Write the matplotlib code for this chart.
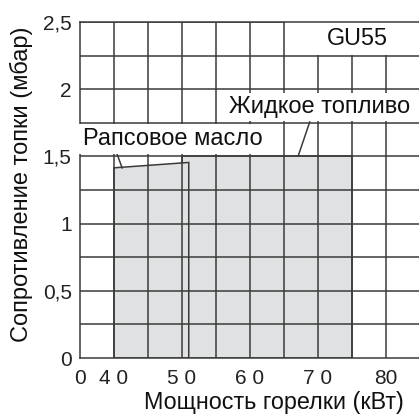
import matplotlib
matplotlib.use('Agg')
import matplotlib.pyplot as plt
from matplotlib.patches import Rectangle

plt.rcParams['font.family'] = ['Liberation Sans', 'DejaVu Sans']

# x axis is broken: 0, then 40..85 kW in 5 kW steps
x_ticks_kw = [0, 40, 50, 60, 70, 80]
x_tick_labels = ['0', '4 0', '5 0', '6 0', '7 0', '80']
y_ticks = [0, 0.5, 1, 1.5, 2, 2.5]
y_tick_labels = ['0', '0,5', '1', '1,5', '2', '2,5']

# Жидкое топливо (fuel oil) field
fuel_kw = [50, 50, 75, 75]
fuel_mbar = [0, 1.5, 1.5, 0]
# Рапсовое масло (rapeseed oil) field
rape_kw = [40, 40, 51, 51]
rape_mbar = [0, 1.415, 1.455, 0]


def pos(kw):
    # map kW to axis position (one grid cell = 5 kW, first cell is the break)
    return [0 if v == 0 else (v - 35) / 5 for v in kw]


W, H = 419, 416
fig = plt.figure(figsize=(W / 100, H / 100), dpi=100)
ax = fig.add_axes([80 / W, 1 - 358 / H, 1 - 80 / W + 0.002, (358 - 22) / H])

grid_c = '#3a3a3a'
ax.fill(pos(fuel_kw), fuel_mbar, facecolor='#e0e1e3', edgecolor=grid_c, lw=1.1, zorder=1)
ax.fill(pos(rape_kw), rape_mbar, facecolor='#e0e1e3', edgecolor=grid_c, lw=1.1, zorder=1.2)

ax.set_xlim(0, 10)
ax.set_ylim(0, 2.5)
ax.set_xticks(pos(x_ticks_kw))
ax.set_xticklabels(x_tick_labels)
ax.set_yticks(y_ticks)
ax.set_yticklabels(y_tick_labels)
ax.tick_params(length=0, labelsize=15, colors='#222222')
ax.tick_params(axis='x', pad=8)
ax.tick_params(axis='y', pad=6)
# grid every 5 kW and every 0.25 mbar
for i in range(1, 11):
    ax.axvline(i, color=grid_c, lw=1.1, zorder=2.5)
for i in range(1, 11):
    ax.axhline(i * 0.25, color=grid_c, lw=1.1, zorder=2.5)
for s in ['left', 'bottom', 'top']:
    ax.spines[s].set_color(grid_c)
    ax.spines[s].set_linewidth(1.1)
    ax.spines[s].set_zorder(4)
ax.spines['right'].set_visible(False)

# blank cell behind the model name
ax.add_patch(Rectangle((6.03, 2.255), 4, 0.245, facecolor='white', edgecolor='none', zorder=3))
ax.text(pos([75.8])[0], 2.38, 'GU55', fontsize=16.8, ha='center', va='center',
        color='#111111', zorder=5)

ax.text(pos([70.3])[0], 1.868, 'Жидкое топливо', fontsize=17, ha='center', va='center',
        color='#111111', zorder=5,
        bbox=dict(facecolor='white', edgecolor='none', pad=2))
ax.plot(pos([68.8, 67.1]), [1.756, 1.503], color=grid_c, lw=1.1, zorder=4)

ax.text(0.09, 1.63, 'Рапсовое масло', fontsize=17, ha='left', va='center',
        color='#111111', zorder=5, clip_on=False,
        bbox=dict(facecolor='white', edgecolor='none', pad=3))
ax.plot(pos([40.4, 41.2]), [1.525, 1.414], color=grid_c, lw=1.1, zorder=4)

fig.text(21 / W, 1 - 184 / H, 'Сопротивление топки (мбар)', rotation=90, fontsize=17,
         ha='center', va='center', color='#111111')
fig.text(404 / W, 1 - 402 / H, 'Мощность горелки (кВт)', fontsize=16.8,
         ha='right', va='center', color='#111111')

fig.savefig('out.png', dpi=100)
